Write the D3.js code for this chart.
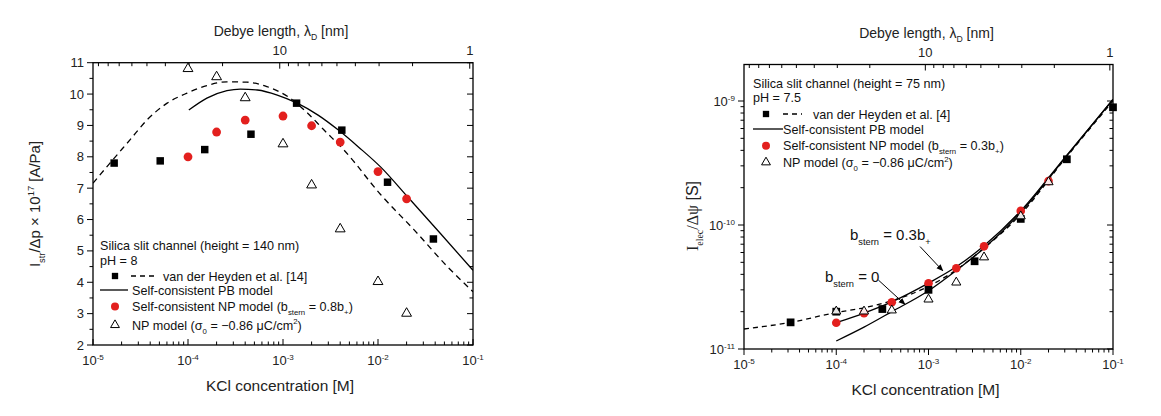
<!DOCTYPE html>
<html><head><meta charset="utf-8">
<script src="https://cdn.jsdelivr.net/npm/d3@7"></script>
<style>body{margin:0;background:#fff;} svg{display:block;font-family:"Liberation Sans",Arial,sans-serif;}</style>
</head><body>
<svg id="c" width="1161" height="416"></svg>
<script>
// ---------------- DATA ----------------
// Left panel: streaming current (x 1e17 A/Pa) vs KCl concentration (M)
const L_vdhConc = [1.67e-5, 5.1e-5, 1.5e-4, 4.6e-4, 1.39e-3, 4.16e-3, 1.26e-2, 3.83e-2];
const L_vdhVal  = [7.80, 7.87, 8.23, 8.72, 9.71, 8.85, 7.19, 5.38];
const L_npscConc = [1e-4, 2e-4, 4e-4, 1e-3, 2e-3, 4e-3, 1e-2, 2e-2];
const L_npscVal  = [8.00, 8.79, 9.17, 9.30, 8.99, 8.47, 7.53, 6.66];
const L_npConc = [1e-4, 2e-4, 4e-4, 1e-3, 2e-3, 4e-3, 1e-2, 2e-2];
const L_npVal  = [10.84, 10.58, 9.91, 8.44, 7.13, 5.73, 4.05, 3.04];
const L_fitConc = [1e-5, 1.51e-5, 2.45e-5, 3.72e-5, 6.03e-5, 9.77e-5, 1.58e-4, 2.57e-4, 4.17e-4, 6.76e-4, 1.12e-3, 1.82e-3, 2.69e-3, 4.37e-3, 1.07e-2, 2.4e-2, 5.37e-2, 1e-1];
const L_fitVal  = [7.16, 7.80, 8.54, 9.18, 9.71, 10.03, 10.27, 10.39, 10.38, 10.24, 9.92, 9.39, 8.86, 8.22, 6.79, 5.67, 4.50, 3.70];
const L_pbConc = [1.02e-4, 1.58e-4, 2.57e-4, 3.55e-4, 5.37e-4, 8.71e-4, 1.41e-3, 2.34e-3, 3.8e-3, 6.3e-3, 1.07e-2, 2.04e-2, 4.47e-2, 1e-1];
const L_pbVal  = [9.49, 9.87, 10.11, 10.16, 10.13, 9.97, 9.71, 9.33, 8.86, 8.30, 7.67, 6.73, 5.58, 4.38];
const L_yTicks = [2, 3, 4, 5, 6, 7, 8, 9, 10, 11];

// Right panel: electrical conductance (S) vs KCl concentration (M)
const R_vdhConc = [3.2e-5, 1e-4, 3.16e-4, 1e-3, 3.16e-3, 1e-2, 3.16e-2, 1e-1];
const R_vdhVal  = [1.64e-11, 2.0e-11, 2.1e-11, 3.0e-11, 5.1e-11, 1.12e-10, 3.39e-10, 8.9e-10];
const R_npscConc = [1e-4, 2e-4, 4e-4, 1e-3, 2e-3, 4e-3, 1e-2, 2e-2];
const R_npscVal  = [1.63e-11, 1.94e-11, 2.38e-11, 3.39e-11, 4.48e-11, 6.73e-11, 1.30e-10, 2.26e-10];
const R_npConc = [1e-4, 2e-4, 4e-4, 1e-3, 2e-3, 4e-3, 1e-2, 2e-2];
const R_npVal  = [2.05e-11, 2.05e-11, 2.09e-11, 2.56e-11, 3.51e-11, 5.6e-11, 1.2e-10, 2.26e-10];
const R_fitConc = [1e-5, 3.2e-5, 1e-4, 2e-4, 4e-4, 1e-3, 2e-3, 4e-3, 1e-2, 3e-2, 1e-1];
const R_fitVal  = [1.45e-11, 1.64e-11, 1.97e-11, 2.15e-11, 2.45e-11, 3.2e-11, 4.35e-11, 6.5e-11, 1.22e-10, 3.4e-10, 1.0e-9];
const R_pb03Conc = [1e-4, 2e-4, 4e-4, 1e-3, 2e-3, 4e-3, 1e-2, 3e-2, 1e-1];
const R_pb03Val  = [1.63e-11, 1.95e-11, 2.4e-11, 3.4e-11, 4.6e-11, 6.8e-11, 1.3e-10, 3.5e-10, 1.03e-9];
const R_pb0Conc = [1e-4, 2e-4, 4e-4, 1e-3, 2e-3, 4e-3, 1e-2, 3e-2, 1e-1];
const R_pb0Val  = [1.16e-11, 1.5e-11, 2.0e-11, 2.95e-11, 4.3e-11, 6.5e-11, 1.26e-10, 3.45e-10, 1.03e-9];
const R_yTicks = [1e-11, 1e-10, 1e-9];

const xDecades = [1e-5, 1e-4, 1e-3, 1e-2, 1e-1];
const debyeMajor = [1, 10];
const debyeMinor = [2,3,4,5,6,7,8,9,20,30,40,50,60,70,80,90];
const debye = c => 0.304 / Math.sqrt(c);   // nm, KCl

// ---------------- DRAWING ----------------
const svg = d3.select("#c");
const RED = "#e3201e";
const SERIF = '"Liberation Serif", "Times New Roman", serif';
const zip = (a, b) => a.map((v, i) => [v, b[i]]);

function rich(sel, parts, size) {
  let shift = 0;
  parts.forEach(p => {
    const arr = Array.isArray(p);
    const t = arr ? p[0] : p;
    const m = arr ? p[1] : 0;
    const target = m === 1 ? size * 0.33 : m === 2 ? -size * 0.42 : 0;
    const ts = sel.append("tspan").text(t).attr("dy", target - shift)
      .attr("font-size", m ? size * 0.62 : size);
    if (arr && p[2]) ts.attr("font-family", p[2]);
    shift = target;
  });
  return sel;
}

function minorsLog(lo, hi) {
  const out = [];
  for (let e = Math.floor(Math.log10(lo)); e <= Math.ceil(Math.log10(hi)); e++)
    for (let k = 2; k <= 9; k++) { const v = k * Math.pow(10, e); if (v > lo && v < hi) out.push(v); }
  return out;
}

function panel(cfg) {
  const g = svg.append("g");
  const x = d3.scaleLog().domain([1e-5, 1e-1]).range([cfg.x0, cfg.x1]);
  const y = cfg.y;
  const [yb, yt] = y.range();
  const id = cfg.id;
  g.append("clipPath").attr("id", id).append("rect")
    .attr("x", cfg.x0).attr("y", yt).attr("width", cfg.x1 - cfg.x0).attr("height", yb - yt);

  g.append("rect").attr("x", cfg.x0).attr("y", yt).attr("width", cfg.x1 - cfg.x0).attr("height", yb - yt)
    .attr("fill", "none").attr("stroke", "#000").attr("stroke-width", 1.3);

  const bdir = cfg.bottomIn ? -1 : 1;
  const ax = g.append("g").attr("stroke", "#000").attr("stroke-width", 1);
  xDecades.forEach(v => ax.append("line").attr("x1", x(v)).attr("x2", x(v)).attr("y1", yb).attr("y2", yb + bdir * 6));
  minorsLog(1e-5, 1e-1).forEach(v => ax.append("line").attr("x1", x(v)).attr("x2", x(v)).attr("y1", yb).attr("y2", yb + bdir * 3.5));
  xDecades.forEach(v => {
    rich(g.append("text").attr("x", x(v)).attr("y", yb + 20).attr("text-anchor", "middle").attr("fill", "#222"),
      ["10", ["-" + Math.round(-Math.log10(v)), 2]], 13);
  });
  const xt = d3.scaleLog().domain([debye(1e-5), debye(1e-1)]).range([cfg.x0, cfg.x1]);
  debyeMajor.forEach(v => ax.append("line").attr("x1", xt(v)).attr("x2", xt(v)).attr("y1", yt).attr("y2", yt + 6));
  debyeMinor.forEach(v => ax.append("line").attr("x1", xt(v)).attr("x2", xt(v)).attr("y1", yt).attr("y2", yt + 3.5));
  debyeMajor.forEach(v => g.append("text").attr("x", xt(v)).attr("y", yt - 8).attr("text-anchor", "middle")
    .attr("font-size", 13).attr("fill", "#222").text(v));
  rich(g.append("text").attr("x", (cfg.x0 + cfg.x1) / 2 - 2).attr("y", yt - 27).attr("text-anchor", "middle").attr("fill", "#222"),
    ["Debye length, λ", ["D", 1], "  [nm]"], 14);
  g.append("text").attr("x", (cfg.x0 + cfg.x1) / 2 - 3).attr("y", yb + 46).attr("text-anchor", "middle")
    .attr("font-size", 15.5).attr("fill", "#222").text("KCl concentration  [M]");

  cfg.yMajor.forEach(v => {
    ax.append("line").attr("x1", cfg.x0).attr("x2", cfg.x0 - 6).attr("y1", y(v)).attr("y2", y(v));
    ax.append("line").attr("x1", cfg.x1).attr("x2", cfg.x1 - 6).attr("y1", y(v)).attr("y2", y(v));
  });
  cfg.yMinor.forEach(v => {
    ax.append("line").attr("x1", cfg.x0).attr("x2", cfg.x0 - 3.5).attr("y1", y(v)).attr("y2", y(v));
    ax.append("line").attr("x1", cfg.x1).attr("x2", cfg.x1 - 3.5).attr("y1", y(v)).attr("y2", y(v));
  });
  cfg.yLabels(g, y);

  const line = d3.line().x(d => x(d[0])).y(d => y(d[1])).curve(d3.curveMonotoneX);
  const curves = g.append("g").attr("clip-path", `url(#${id})`).attr("fill", "none").attr("stroke", "#000").attr("stroke-width", 1.3);
  cfg.curves.forEach(c => curves.append("path").attr("d", line(c.pts)).attr("stroke-dasharray", c.dash || null));

  const sym = (type, size) => d3.symbol().type(type).size(size)();
  const mk = g.append("g");
  const sq = cfg.sqSize, ci = cfg.ciR, tri = cfg.triSize;
  cfg.red.forEach(d => mk.append("circle").attr("cx", x(d[0])).attr("cy", y(d[1])).attr("r", ci).attr("fill", RED));
  cfg.squares.forEach(d => mk.append("path").attr("d", sym(d3.symbolSquare, sq)).attr("transform", `translate(${x(d[0])},${y(d[1])})`).attr("fill", "#000"));
  cfg.tris.forEach(d => mk.append("path").attr("d", sym(d3.symbolTriangle, tri))
    .attr("transform", `translate(${x(d[0])},${y(d[1]) + 1})`).attr("fill", "#fff").attr("fill-opacity", 0.9)
    .attr("stroke", "#000").attr("stroke-width", 1));

  const L = cfg.legend, fs = 12.6;
  const lg = g.append("g").attr("fill", "#111");
  lg.append("text").attr("x", L.x).attr("y", L.rows[0]).attr("font-size", fs).text(L.title);
  lg.append("text").attr("x", L.x).attr("y", L.rows[1]).attr("font-size", fs).text(L.ph);
  lg.append("path").attr("d", sym(d3.symbolSquare, 40)).attr("transform", `translate(${L.mx},${L.rows[2]})`).attr("fill", "#000");
  lg.append("line").attr("x1", L.dash[0]).attr("x2", L.dash[1]).attr("y1", L.rows[2]).attr("y2", L.rows[2])
    .attr("stroke", "#000").attr("stroke-width", 1.3).attr("stroke-dasharray", "5,4");
  lg.append("text").attr("x", L.dash[2]).attr("y", L.rows[2] + 4.5).attr("font-size", fs).text(L.vdh);
  lg.append("line").attr("x1", L.x).attr("x2", L.solid[0]).attr("y1", L.rows[3]).attr("y2", L.rows[3])
    .attr("stroke", "#000").attr("stroke-width", 1.3);
  lg.append("text").attr("x", L.solid[1]).attr("y", L.rows[3] + 4.5).attr("font-size", fs).text("Self-consistent PB model");
  lg.append("circle").attr("cx", L.mx).attr("cy", L.rows[4]).attr("r", 4).attr("fill", RED);
  rich(lg.append("text").attr("x", L.solid[1]).attr("y", L.rows[4] + 4.5),
    ["Self-consistent NP model (b", ["stern", 1], " = " + L.b + "b", ["+", 1], ")"], fs);
  lg.append("path").attr("d", sym(d3.symbolTriangle, 34)).attr("transform", `translate(${L.mx},${L.rows[5]})`)
    .attr("fill", "none").attr("stroke", "#000").attr("stroke-width", 1);
  rich(lg.append("text").attr("x", L.solid[1]).attr("y", L.rows[5] + 4.5),
    ["NP model (σ", ["0", 1], " = −0.86 μC/cm", ["2", 2], ")"], fs);
  return { x, y, g };
}

// Left panel
const yL = d3.scaleLinear().domain([2, 11]).range([345, 62.7]);
panel({
  id: "clipL", x0: 93, x1: 473, y: yL,
  yMajor: L_yTicks, yMinor: L_yTicks.slice(0, -1).map(v => v + 0.5),
  bottomIn: true,
  yLabels: (g, y) => {
    L_yTicks.forEach(v => g.append("text").attr("x", 84).attr("y", y(v) + 4.5).attr("text-anchor", "end")
      .attr("font-size", 13).attr("fill", "#222").text(v));
    rich(g.append("text").attr("transform", "translate(40,204) rotate(-90)").attr("text-anchor", "middle").attr("fill", "#222"),
      ["I", ["str", 1], "/Δp × 10", ["17", 2], "  [A/Pa]"], 15);
  },
  curves: [{ pts: zip(L_fitConc, L_fitVal), dash: "6,4.5" }, { pts: zip(L_pbConc, L_pbVal) }],
  red: zip(L_npscConc, L_npscVal), squares: zip(L_vdhConc, L_vdhVal), tris: zip(L_npConc, L_npVal),
  sqSize: 56, ciR: 4.4, triSize: 42,
  legend: { x: 100, mx: 115, rows: [250, 265, 276, 290, 306.5, 325], dash: [131, 157, 163], solid: [128, 132],
    title: "Silica slit channel (height = 140 nm)", ph: "pH = 8", vdh: "van der Heyden et al. [14]", b: "0.8" }
});

// Right panel
const yR = d3.scaleLog().domain([1e-11, 1.97e-9]).range([349, 64.5]);
const R = panel({
  id: "clipR", x0: 744, x1: 1113, y: yR,
  yMajor: R_yTicks, yMinor: minorsLog(1e-11, 1.97e-9),
  bottomIn: false,
  yLabels: (g, y) => {
    R_yTicks.forEach(v => rich(g.append("text").attr("x", 735).attr("y", y(v) + 5).attr("text-anchor", "end").attr("fill", "#222"),
      ["10", ["-" + Math.round(-Math.log10(v)), 2]], 13));
    rich(g.append("text").attr("transform", "translate(698,216) rotate(-90)").attr("text-anchor", "middle").attr("fill", "#222"),
      [["I", 0, SERIF], ["elec", 1, SERIF], ["/Δψ", 0, SERIF], "  [S]"], 16);
  },
  curves: [{ pts: zip(R_fitConc, R_fitVal), dash: "5,4" }, { pts: zip(R_pb03Conc, R_pb03Val) }, { pts: zip(R_pb0Conc, R_pb0Val) }],
  red: zip(R_npscConc, R_npscVal), squares: zip(R_vdhConc, R_vdhVal), tris: zip(R_npConc, R_npVal),
  sqSize: 60, ciR: 4.3, triSize: 36,
  legend: { x: 753, mx: 766, rows: [87.5, 102, 114, 129, 145.7, 162.3], dash: [783, 802, 813], solid: [783, 783],
    title: "Silica slit channel (height = 75 nm)", ph: "pH = 7.5", vdh: "van der Heyden et al. [4]", b: "0.3" }
});

// Annotations on right panel
const defs = svg.append("defs");
defs.append("marker").attr("id", "arr").attr("viewBox", "0 0 10 10").attr("refX", 9).attr("refY", 5)
  .attr("markerWidth", 7).attr("markerHeight", 7).attr("orient", "auto")
  .append("path").attr("d", "M0,1 L10,5 L0,9 Z").attr("fill", "#000");
const annots = [
  { tx: 1.41e-4, ty: 7.6e-11, label: "0.3b", plus: true, from: [8.1e-4, 6.7e-11], to: [1.43e-3, 4.27e-11] },
  { tx: 7.55e-5, ty: 3.45e-11, label: "0", plus: false, from: [2.86e-4, 3.6e-11], to: [5.56e-4, 2.29e-11] }
];
annots.forEach(a => {
  const parts = ["b", ["stern", 1], " = " + a.label];
  if (a.plus) parts.push(["+", 1]);
  rich(R.g.append("text").attr("x", R.x(a.tx)).attr("y", R.y(a.ty)).attr("fill", "#111"), parts, 15);
  R.g.append("line").attr("x1", R.x(a.from[0])).attr("y1", R.y(a.from[1])).attr("x2", R.x(a.to[0])).attr("y2", R.y(a.to[1]))
    .attr("stroke", "#000").attr("stroke-width", 1).attr("marker-end", "url(#arr)");
});
</script>
</body></html>
